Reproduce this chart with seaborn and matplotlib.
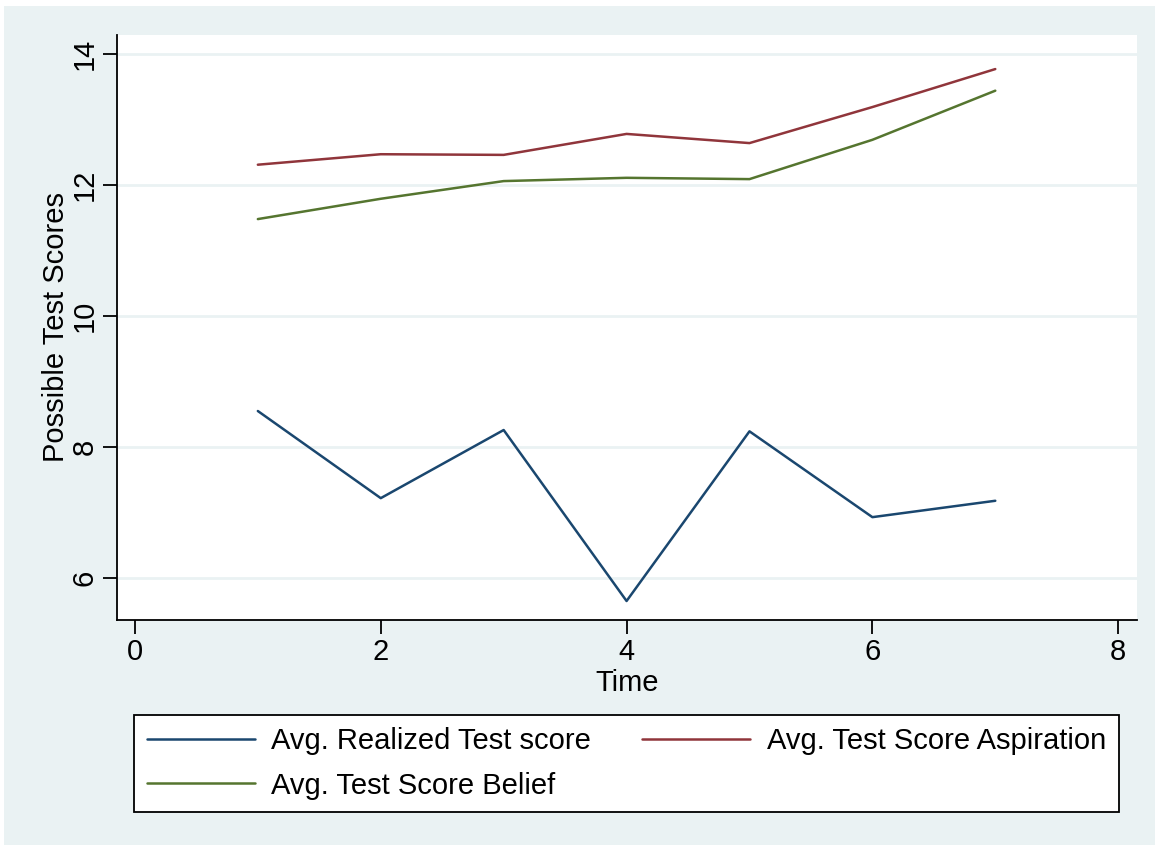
"""
Average realized test score, aspiration and belief over time,
drawn in the style of a Stata s2color graph.
"""

import pandas as pd
import seaborn as sns
import matplotlib.pyplot as plt
from matplotlib.patches import Rectangle

# data
time = [1, 2, 3, 4, 5, 6, 7]
realized = [8.55, 7.22, 8.26, 5.65, 8.24, 6.93, 7.18]
aspiration = [12.31, 12.47, 12.46, 12.78, 12.64, 13.19, 13.77]
belief = [11.48, 11.79, 12.06, 12.11, 12.09, 12.69, 13.44]

series_names = ["Avg. Realized Test score", "Avg. Test Score Aspiration",
                "Avg. Test Score Belief"]
series_colors = ["#1A476F", "#90353B", "#55752F"]
y_ticks = [6, 8, 10, 12, 14]
x_ticks = [0, 2, 4, 6, 8]

BG = "#EAF2F3"
FS = 21


def build_frame():
    """ Puts the three series into one long dataframe. """
    frames = []
    for name, values in zip(series_names, [realized, aspiration, belief]):
        frames.append(pd.DataFrame({"Time": time, "Score": values,
                                    "Series": name}))
    return pd.concat(frames, ignore_index=True)


def main():
    sns.set_style("ticks")
    plt.rcParams["font.family"] = ["Liberation Sans", "DejaVu Sans"]
    plt.rcParams["text.color"] = "black"
    plt.rcParams["axes.labelcolor"] = "black"
    plt.rcParams["xtick.color"] = "black"
    plt.rcParams["ytick.color"] = "black"

    data = build_frame()

    fig = plt.figure(figsize=(11.59, 8.48), dpi=100, facecolor="white")
    # light outer background, with a thin white margin like the original
    fig.patches.append(Rectangle((4 / 1159, 3 / 848), 1151 / 1159,
                                 839 / 848, transform=fig.transFigure,
                                 facecolor=BG, edgecolor="none", zorder=-5))
    ax = fig.add_axes([117 / 1159, 228 / 848, 1020 / 1159, 585 / 848])
    ax.set_facecolor("white")

    sns.lineplot(data=data, x="Time", y="Score", hue="Series",
                 hue_order=series_names, palette=series_colors,
                 linewidth=1.8, ax=ax, legend=False)

    ax.set_xlim(-0.146, 8.153)
    ax.set_ylim(5.36, 14.29)
    ax.set_xticks(x_ticks)
    ax.set_yticks(y_ticks)
    ax.grid(axis="y", color=BG, linewidth=2)
    ax.set_axisbelow(True)

    for side in ["top", "right"]:
        ax.spines[side].set_visible(False)
    for side in ["left", "bottom"]:
        ax.spines[side].set_color("black")
        ax.spines[side].set_linewidth(1.3)

    ax.tick_params(axis="both", length=10, width=1.3, color="black",
                   labelsize=FS, pad=3)
    plt.setp(ax.get_yticklabels(), rotation=90, va="center")
    ax.set_xlabel("Time", fontsize=FS, labelpad=2)
    ax.set_ylabel("Possible Test Scores", fontsize=FS, labelpad=1)

    # legend: two columns, realized / belief on the left, aspiration right
    lines = ax.get_lines()
    handles = [lines[0], lines[2], lines[1]]
    labels = [series_names[0], series_names[2], series_names[1]]
    leg = fig.legend(handles, labels, loc="center", ncol=2,
                     bbox_to_anchor=(626.5 / 1159, (848 - 763.5) / 848),
                     fontsize=FS, frameon=True, fancybox=False,
                     framealpha=1, facecolor="white", edgecolor="black",
                     handlelength=3.7, handletextpad=0.58, labelspacing=0.55,
                     columnspacing=1.75, borderpad=0.42, borderaxespad=0)
    leg.get_frame().set_linewidth(1.3)

    plt.savefig("out.png", dpi=100, facecolor=fig.get_facecolor())


if __name__ == '__main__':
    main()
